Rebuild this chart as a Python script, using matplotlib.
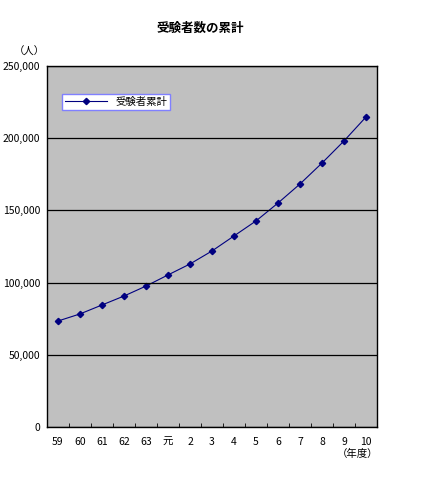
import numpy as np
import matplotlib
matplotlib.use('Agg')
import matplotlib.pyplot as plt
from matplotlib.ticker import FuncFormatter, FixedLocator

plt.rcParams['font.family'] = ['Noto Sans CJK JP', 'DejaVu Sans']

# categories (fiscal years) and cumulative examinees
years = ['59', '60', '61', '62', '63', '元', '2', '3', '4', '5', '6', '7', '8', '9', '10']
cumulative = [73400, 78300, 84500, 90700, 97600, 105300, 112900, 121900,
              132300, 142700, 155100, 168300, 182800, 198100, 214700]
y_ticks = [0, 50000, 100000, 150000, 200000, 250000]

fig = plt.figure(figsize=(4.3, 5.0), dpi=100)
ax = fig.add_axes([47 / 430, 73 / 500, 330 / 430, 361 / 500])
ax.set_facecolor('#c0c0c0')

x = np.arange(len(years))
ax.plot(x, cumulative, color='#000080', linewidth=0.8, marker='D',
        markersize=3.2, label='受験者累計')

ax.set_xlim(-0.5, len(years) - 0.5)
ax.set_ylim(0, 250000)

# horizontal gridlines
ax.set_yticks(y_ticks)
ax.yaxis.set_major_formatter(FuncFormatter(lambda v, p: f'{int(v):,}'))
ax.yaxis.grid(True, color='black', linewidth=0.9)
ax.set_axisbelow(False)
ax.tick_params(axis='y', length=0, labelsize=7.5, pad=5)

ax.set_xticks(x)
ax.set_xticklabels(years)
ax.tick_params(axis='x', which='major', length=0, labelsize=7.5, pad=7)
ax.xaxis.set_minor_locator(FixedLocator(np.arange(0.5, len(years) - 1, 1.0)))
ax.tick_params(axis='x', which='minor', direction='in', length=3, color='black')

for s in ax.spines.values():
    s.set_color('black')
    s.set_linewidth(1.0)

fig.text(200 / 430, 1 - 28 / 500, '受験者数の累計', ha='center', va='center',
         fontsize=9, fontweight='bold')
fig.text(29 / 430, 1 - 52 / 500, '（人）', ha='center', va='center', fontsize=7.5)
fig.text(358 / 430, 1 - 454 / 500, '（年度）', ha='center', va='center', fontsize=7.5)

leg = fig.legend(loc='lower left', bbox_to_anchor=(62 / 430, 1 - 110 / 500),
                 fontsize=7.5, fancybox=False, framealpha=1, edgecolor='#8080ff',
                 borderpad=0.3, handlelength=4, borderaxespad=0)
leg.get_frame().set_linewidth(1.0)

fig.savefig('out.png', dpi=100)
